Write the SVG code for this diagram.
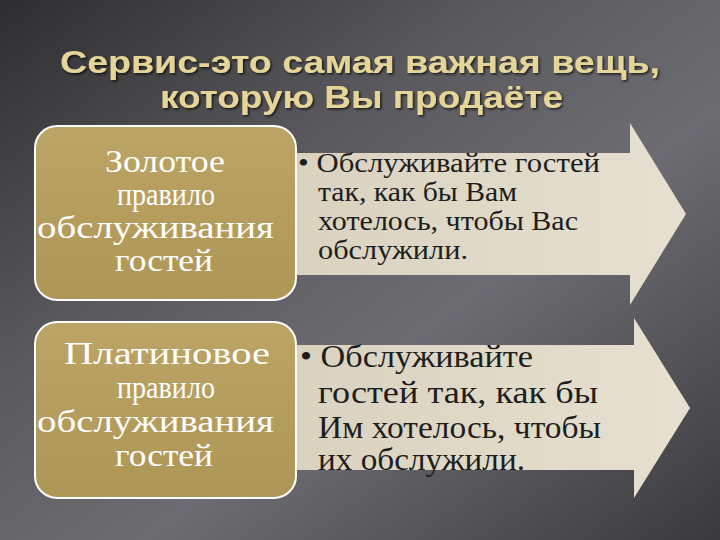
<svg xmlns="http://www.w3.org/2000/svg" width="720" height="540" viewBox="0 0 720 540">
<defs>
<linearGradient id="bg" x1="0" y1="0" x2="1" y2="1">
<stop offset="0" stop-color="#2e2e30"/><stop offset="0.35" stop-color="#5a5a5e"/><stop offset="0.6" stop-color="#6c6c72"/><stop offset="1" stop-color="#3a3a3e"/>
</linearGradient>
<linearGradient id="gold" x1="0" y1="0" x2="0" y2="1">
<stop offset="0" stop-color="#bca466"/><stop offset="1" stop-color="#ae9656"/>
</linearGradient>
<linearGradient id="arr" x1="0" y1="0" x2="1" y2="0">
<stop offset="0" stop-color="#d9d2bf"/><stop offset="1" stop-color="#e6e0d0"/>
</linearGradient>
<filter id="sh"><feDropShadow dx="1.5" dy="1.5" stdDeviation="0.8" flood-color="#000" flood-opacity="0.7"/></filter>
<style>
.t{font-family:"Liberation Sans",Arial,sans-serif;font-weight:bold;font-size:31px;fill:#e6d598}
.l{font-family:"Liberation Serif","Times New Roman",serif;font-size:31px;fill:#fff}
.r1{font-family:"Liberation Serif","Times New Roman",serif;font-size:27px;fill:#1e1e1e}
.r2{font-family:"Liberation Serif","Times New Roman",serif;font-size:31px;fill:#1e1e1e}
.box{fill:url(#gold);stroke:#fff;stroke-width:2}
.ar{fill:url(#arr)}
</style>
</defs>
<rect width="720" height="540" fill="url(#bg)"/>
<g filter="url(#sh)">
<text class="t" x="60" y="73" textLength="600" lengthAdjust="spacingAndGlyphs">Сервис-это самая важная вещь,</text>
<text class="t" x="160" y="108" textLength="403" lengthAdjust="spacingAndGlyphs">которую Вы продаёте</text>
</g>
<g id="arrow1"><path class="ar" d="M290 153 L630 153 L630 123 L686 214 L630 305 L630 275 L290 275 Z"/>
<text class="r1" x="298" y="172" textLength="302" lengthAdjust="spacingAndGlyphs">• Обслуживайте гостей</text>
<text class="r1" x="318" y="201" textLength="199" lengthAdjust="spacingAndGlyphs">так, как бы Вам</text>
<text class="r1" x="318" y="230" textLength="260" lengthAdjust="spacingAndGlyphs">хотелось, чтобы Вас</text>
<text class="r1" x="318" y="259" textLength="150" lengthAdjust="spacingAndGlyphs">обслужили.</text></g>
<g id="box1"><rect class="box" x="35" y="126" width="261" height="174" rx="22"/>
<text class="l" x="105" y="172" textLength="120" lengthAdjust="spacingAndGlyphs">Золотое</text>
<text class="l" x="117" y="205" textLength="98" lengthAdjust="spacingAndGlyphs">правило</text>
<text class="l" x="37" y="238" textLength="237" lengthAdjust="spacingAndGlyphs">обслуживания</text>
<text class="l" x="115" y="271" textLength="98" lengthAdjust="spacingAndGlyphs">гостей</text></g>
<g id="arrow2"><path class="ar" d="M290 345 L634 345 L634 318 L690 408 L634 498 L634 470 L290 470 Z"/>
<text class="r2" x="300" y="367" textLength="233" lengthAdjust="spacingAndGlyphs">• Обслуживайте</text>
<text class="r2" x="318" y="403" textLength="280" lengthAdjust="spacingAndGlyphs">гостей так, как бы</text>
<text class="r2" x="318" y="438" textLength="283" lengthAdjust="spacingAndGlyphs">Им хотелось, чтобы</text>
<text class="r2" x="318" y="470" textLength="207" lengthAdjust="spacingAndGlyphs">их обслужили.</text></g>
<g id="box2"><rect class="box" x="35" y="322" width="261" height="176" rx="22"/>
<text class="l" x="64" y="364" textLength="206" lengthAdjust="spacingAndGlyphs">Платиновое</text>
<text class="l" x="117" y="398" textLength="98" lengthAdjust="spacingAndGlyphs">правило</text>
<text class="l" x="37" y="432" textLength="237" lengthAdjust="spacingAndGlyphs">обслуживания</text>
<text class="l" x="115" y="466" textLength="98" lengthAdjust="spacingAndGlyphs">гостей</text></g>
<g id="connectors"/>
</svg>
